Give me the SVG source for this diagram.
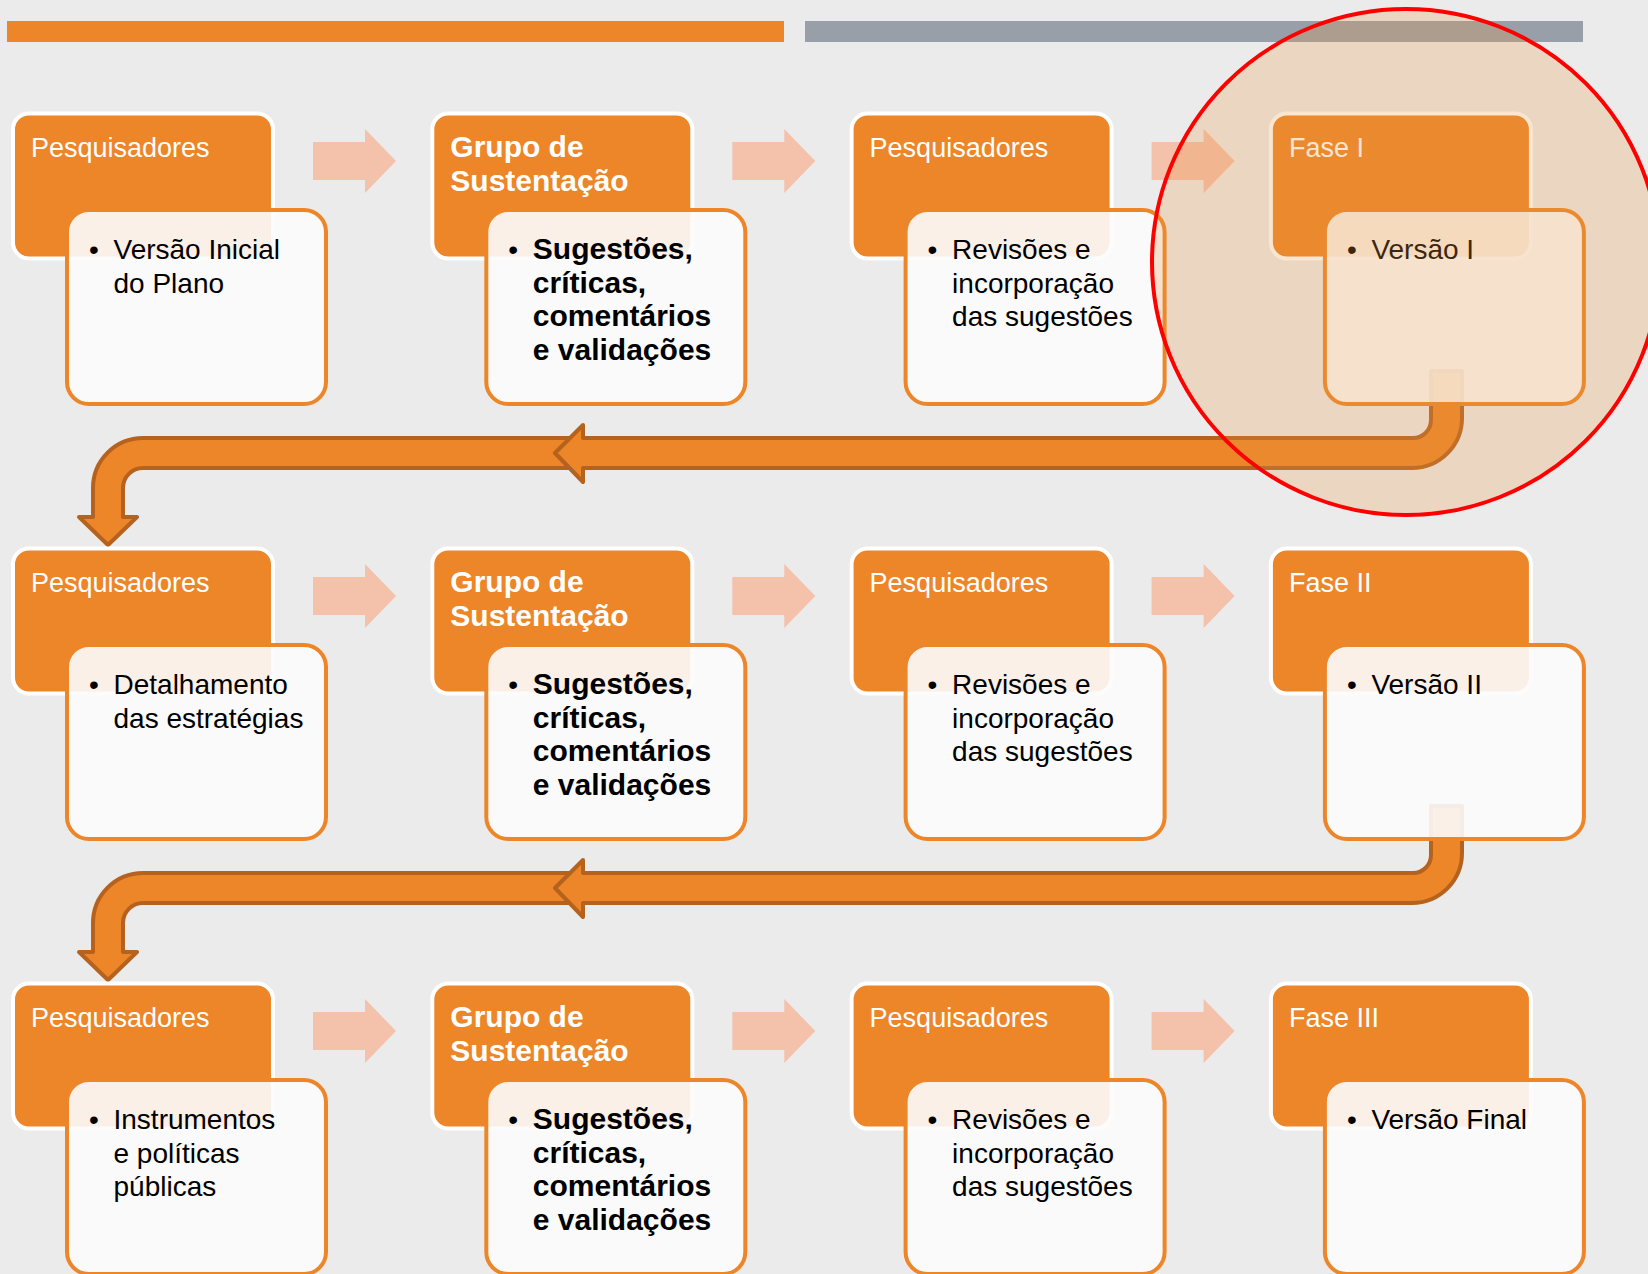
<svg xmlns="http://www.w3.org/2000/svg" xmlns:xlink="http://www.w3.org/1999/xlink" width="1648" height="1274" viewBox="0 0 1648 1274">
  <style>
    .hdr { fill: #ED8529; stroke: #FFFFFF; stroke-width: 4; }
    .det { fill: #FCFCFC; fill-opacity: 0.9; stroke: #ED8529; stroke-width: 4; }
    .step { fill: #F4C1AA; }
    .bend { fill: #ED8529; stroke: #B5621F; stroke-width: 4; stroke-linejoin: round; }
    .ht { font-family: "Liberation Sans", Arial, sans-serif; font-size: 27px; fill: #FFFFFF; }
    .hb { font-family: "Liberation Sans", Arial, sans-serif; font-size: 30px; font-weight: bold; fill: #FFFFFF; }
    .dt { font-family: "Liberation Sans", Arial, sans-serif; font-size: 28px; fill: #000000; }
    .db { font-family: "Liberation Sans", Arial, sans-serif; font-size: 30px; font-weight: bold; fill: #000000; }
    .bul { font-family: "Liberation Sans", Arial, sans-serif; font-size: 28px; fill: #000000; }
  </style>
  <defs>
    <rect id="hdrBox" class="hdr" x="13" y="113.5" width="260" height="145" rx="16"/>
    <rect id="detBox" class="det" x="67" y="210" width="259" height="194" rx="22"/>
    <polygon id="stepArrow" class="step" points="313,142 365,142 365,129 396,161 365,193 365,180 313,180"/>
    <!-- return path: long leg from the last box, ending with a left-pointing head -->
    <path id="bendA" class="bend" d="M1431,371 V420 A18,18 0 0 1 1413,438 H583 V425 L555,453 L583,482 V468 H1412 A50,50 0 0 0 1462,418 V371 Z"/>
    <!-- return path: short leg turning down into the first box of the next row -->
    <path id="bendB" class="bend" d="M640,438 H143 A50,50 0 0 0 93,488 V517 H79 L108,545 L137,517 H123 V488 A20,20 0 0 1 143,468 H640 Z"/>
  </defs>

  <rect x="0" y="0" width="1648" height="1274" fill="#EBEBEB"/>

  <!-- top bars -->
  <rect x="7" y="21" width="777" height="21" fill="#ED8529"/>
  <rect x="805" y="21" width="778" height="21" fill="#989FA8"/>

  <g id="connectors">
    <use xlink:href="#bendB"/>
    <use xlink:href="#bendA"/>
    <use xlink:href="#bendB" transform="translate(0,435)"/>
    <use xlink:href="#bendA" transform="translate(0,435)"/>

    <use xlink:href="#stepArrow"/>
    <use xlink:href="#stepArrow" transform="translate(419.3,0)"/>
    <use xlink:href="#stepArrow" transform="translate(838.6,0)"/>
    <use xlink:href="#stepArrow" transform="translate(0,435)"/>
    <use xlink:href="#stepArrow" transform="translate(419.3,435)"/>
    <use xlink:href="#stepArrow" transform="translate(838.6,435)"/>
    <use xlink:href="#stepArrow" transform="translate(0,870)"/>
    <use xlink:href="#stepArrow" transform="translate(419.3,870)"/>
    <use xlink:href="#stepArrow" transform="translate(838.6,870)"/>
  </g>

  <!-- row 1 -->
  <g id="r1-pesquisadores">
    <use xlink:href="#hdrBox"/>
    <use xlink:href="#detBox"/>
    <text class="ht" x="31" y="157">Pesquisadores</text>
    <text class="bul" x="89" y="259">•</text>
    <text class="dt" x="113.5" y="259">Versão Inicial</text>
    <text class="dt" x="113.5" y="292.5">do Plano</text>
  </g>
  <g id="r1-grupo" transform="translate(419.3,0)">
    <use xlink:href="#hdrBox"/>
    <use xlink:href="#detBox"/>
    <text class="hb" x="31" y="157">Grupo de</text>
    <text class="hb" x="31" y="191">Sustentação</text>
    <text class="bul" x="89" y="259">•</text>
    <text class="db" x="113.5" y="259">Sugestões,</text>
    <text class="db" x="113.5" y="292.5">críticas,</text>
    <text class="db" x="113.5" y="326">comentários</text>
    <text class="db" x="113.5" y="359.5">e validações</text>
  </g>
  <g id="r1-revisoes" transform="translate(838.6,0)">
    <use xlink:href="#hdrBox"/>
    <use xlink:href="#detBox"/>
    <text class="ht" x="31" y="157">Pesquisadores</text>
    <text class="bul" x="89" y="259">•</text>
    <text class="dt" x="113.5" y="259">Revisões e</text>
    <text class="dt" x="113.5" y="292.5">incorporação</text>
    <text class="dt" x="113.5" y="326">das sugestões</text>
  </g>
  <g id="r1-fase" transform="translate(1257.9,0)">
    <use xlink:href="#hdrBox"/>
    <use xlink:href="#detBox"/>
    <text class="ht" x="31" y="157">Fase I</text>
    <text class="bul" x="89" y="259">•</text>
    <text class="dt" x="113.5" y="259">Versão I</text>
  </g>

  <!-- row 2 -->
  <g id="r2-pesquisadores" transform="translate(0,435)">
    <use xlink:href="#hdrBox"/>
    <use xlink:href="#detBox"/>
    <text class="ht" x="31" y="157">Pesquisadores</text>
    <text class="bul" x="89" y="259">•</text>
    <text class="dt" x="113.5" y="259">Detalhamento</text>
    <text class="dt" x="113.5" y="292.5">das estratégias</text>
  </g>
  <g id="r2-grupo" transform="translate(419.3,435)">
    <use xlink:href="#hdrBox"/>
    <use xlink:href="#detBox"/>
    <text class="hb" x="31" y="157">Grupo de</text>
    <text class="hb" x="31" y="191">Sustentação</text>
    <text class="bul" x="89" y="259">•</text>
    <text class="db" x="113.5" y="259">Sugestões,</text>
    <text class="db" x="113.5" y="292.5">críticas,</text>
    <text class="db" x="113.5" y="326">comentários</text>
    <text class="db" x="113.5" y="359.5">e validações</text>
  </g>
  <g id="r2-revisoes" transform="translate(838.6,435)">
    <use xlink:href="#hdrBox"/>
    <use xlink:href="#detBox"/>
    <text class="ht" x="31" y="157">Pesquisadores</text>
    <text class="bul" x="89" y="259">•</text>
    <text class="dt" x="113.5" y="259">Revisões e</text>
    <text class="dt" x="113.5" y="292.5">incorporação</text>
    <text class="dt" x="113.5" y="326">das sugestões</text>
  </g>
  <g id="r2-fase" transform="translate(1257.9,435)">
    <use xlink:href="#hdrBox"/>
    <use xlink:href="#detBox"/>
    <text class="ht" x="31" y="157">Fase II</text>
    <text class="bul" x="89" y="259">•</text>
    <text class="dt" x="113.5" y="259">Versão II</text>
  </g>

  <!-- row 3 -->
  <g id="r3-pesquisadores" transform="translate(0,870)">
    <use xlink:href="#hdrBox"/>
    <use xlink:href="#detBox"/>
    <text class="ht" x="31" y="157">Pesquisadores</text>
    <text class="bul" x="89" y="259">•</text>
    <text class="dt" x="113.5" y="259">Instrumentos</text>
    <text class="dt" x="113.5" y="292.5">e políticas</text>
    <text class="dt" x="113.5" y="326">públicas</text>
  </g>
  <g id="r3-grupo" transform="translate(419.3,870)">
    <use xlink:href="#hdrBox"/>
    <use xlink:href="#detBox"/>
    <text class="hb" x="31" y="157">Grupo de</text>
    <text class="hb" x="31" y="191">Sustentação</text>
    <text class="bul" x="89" y="259">•</text>
    <text class="db" x="113.5" y="259">Sugestões,</text>
    <text class="db" x="113.5" y="292.5">críticas,</text>
    <text class="db" x="113.5" y="326">comentários</text>
    <text class="db" x="113.5" y="359.5">e validações</text>
  </g>
  <g id="r3-revisoes" transform="translate(838.6,870)">
    <use xlink:href="#hdrBox"/>
    <use xlink:href="#detBox"/>
    <text class="ht" x="31" y="157">Pesquisadores</text>
    <text class="bul" x="89" y="259">•</text>
    <text class="dt" x="113.5" y="259">Revisões e</text>
    <text class="dt" x="113.5" y="292.5">incorporação</text>
    <text class="dt" x="113.5" y="326">das sugestões</text>
  </g>
  <g id="r3-fase" transform="translate(1257.9,870)">
    <use xlink:href="#hdrBox"/>
    <use xlink:href="#detBox"/>
    <text class="ht" x="31" y="157">Fase III</text>
    <text class="bul" x="89" y="259">•</text>
    <text class="dt" x="113.5" y="259">Versão Final</text>
  </g>

  <!-- highlight around the first phase -->
  <ellipse id="highlight" cx="1406" cy="262" rx="254" ry="253" fill="rgb(231,151,67)" fill-opacity="0.25" stroke="#FF0000" stroke-width="4"/>
</svg>
